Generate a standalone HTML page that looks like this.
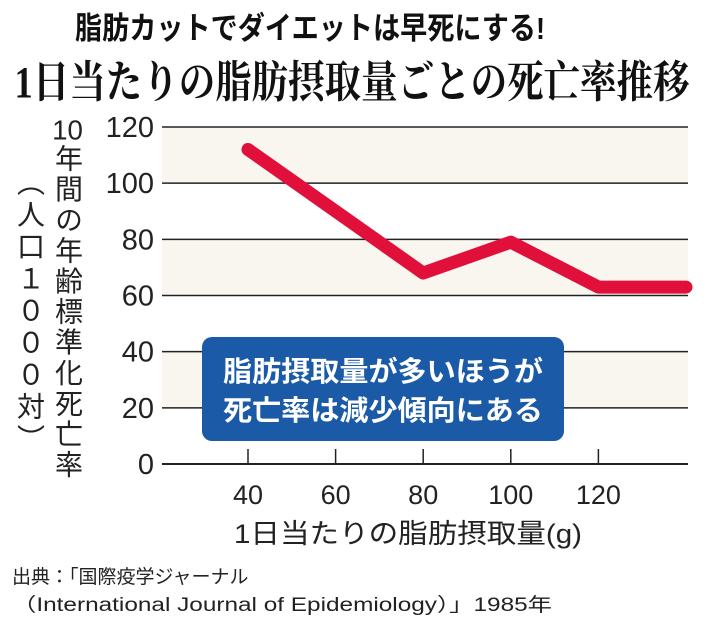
<!DOCTYPE html>
<html><head><meta charset="utf-8"><style>
body{margin:0;background:#fff;position:relative;width:710px;height:624px;overflow:hidden;}
svg{display:block;font-family:"Liberation Sans","Noto Sans CJK JP",sans-serif;}
.vt{position:absolute;writing-mode:vertical-rl;font-family:"Liberation Sans","Noto Sans CJK JP",sans-serif;color:#222;font-size:28px;line-height:1;white-space:nowrap;}
.tcy{text-combine-upright:all;}
</style></head><body>
<svg width="710" height="624" viewBox="0 0 710 624">
<text x="310" y="39" text-anchor="middle" font-size="31" font-weight="bold" textLength="470" lengthAdjust="spacingAndGlyphs" fill="#111">脂肪カットでダイエットは早死にする!</text>
<text x="352" y="97" text-anchor="middle" font-size="44" font-weight="bold" font-family="Liberation Serif, Noto Serif CJK SC, serif" textLength="675" lengthAdjust="spacingAndGlyphs" fill="#111">1日当たりの脂肪摂取量ごとの死亡率推移</text>
<g id="bands"></g>
<g id="grid"></g>
<g id="xaxis"></g>
<g id="yaxis"></g>
<path id="line" fill="none" stroke="#e0103a" stroke-width="13" stroke-linecap="round" stroke-linejoin="round"/>
<rect x="202" y="337" width="362" height="104" rx="10" fill="#1b5aa6"/>
<text x="383" y="381" text-anchor="middle" font-size="28" font-weight="bold" fill="#fff" textLength="320" lengthAdjust="spacingAndGlyphs">脂肪摂取量が多いほうが</text>
<text x="383" y="420" text-anchor="middle" font-size="28" font-weight="bold" fill="#fff" textLength="320" lengthAdjust="spacingAndGlyphs">死亡率は減少傾向にある</text>
<text x="234" y="543" font-size="27" fill="#222" textLength="348" lengthAdjust="spacingAndGlyphs">1日当たりの脂肪摂取量(g)</text>
<text x="12" y="583" font-size="19" fill="#222">出典：「国際疫学ジャーナル</text>
<text x="12" y="611" font-size="19" fill="#222" textLength="540" lengthAdjust="spacingAndGlyphs">（International Journal of Epidemiology）」1985年</text>
</svg>
<div class="vt" style="left:53px;top:116px;letter-spacing:2.6px;"><span class="tcy">10</span>年間の年齢標準化死亡率</div>
<div class="vt" style="left:15px;top:168px;letter-spacing:4px;">（人口１０００対）</div>
<script>
const xTicks=[40,60,80,100,120];
const yTicks=[0,20,40,60,80,100,120];
const fatIntake=[40,80,100,120,140];
const mortality=[112,68,79,63,63];
const bandRanges=[[100,120],[60,80],[20,40]];
const NS='http://www.w3.org/2000/svg';
const X0=162,X1=688;
const xs=v=>248+(v-40)*87.6/20;
const ys=v=>464-v*(337/120);
function mk(t,a,p){const e=document.createElementNS(NS,t);for(const k in a)e.setAttribute(k,a[k]);p.appendChild(e);return e;}
const bands=document.getElementById('bands');
bandRanges.forEach(r=>{const e=mk('rect',{x:X0,y:ys(r[1]),width:X1-X0,height:ys(r[0])-ys(r[1]),fill:'#f9f6ef'},bands);

});
const grid=document.getElementById('grid'),ya=document.getElementById('yaxis'),xa=document.getElementById('xaxis');
yTicks.forEach(v=>{const l=mk('line',{x1:X0,x2:X1,y1:ys(v),y2:ys(v),stroke:'#222','stroke-width':v===0?2:1.5},grid);


const t=mk('text',{x:154,y:ys(v)+10,'text-anchor':'end','font-size':29,fill:'#222'},ya);t.textContent=v;

});
xTicks.forEach(v=>{const l=mk('line',{x1:xs(v),x2:xs(v),y1:449,y2:464,stroke:'#222','stroke-width':1.5},xa);


const t=mk('text',{x:xs(v),y:504,'text-anchor':'middle','font-size':27,fill:'#222'},xa);t.textContent=v;

});
let d='';fatIntake.forEach((v,i)=>{d+=(i?'L':'M')+xs(v)+' '+ys(mortality[i]);});
document.getElementById('line').setAttribute('d',d);
</script>
</body></html>
